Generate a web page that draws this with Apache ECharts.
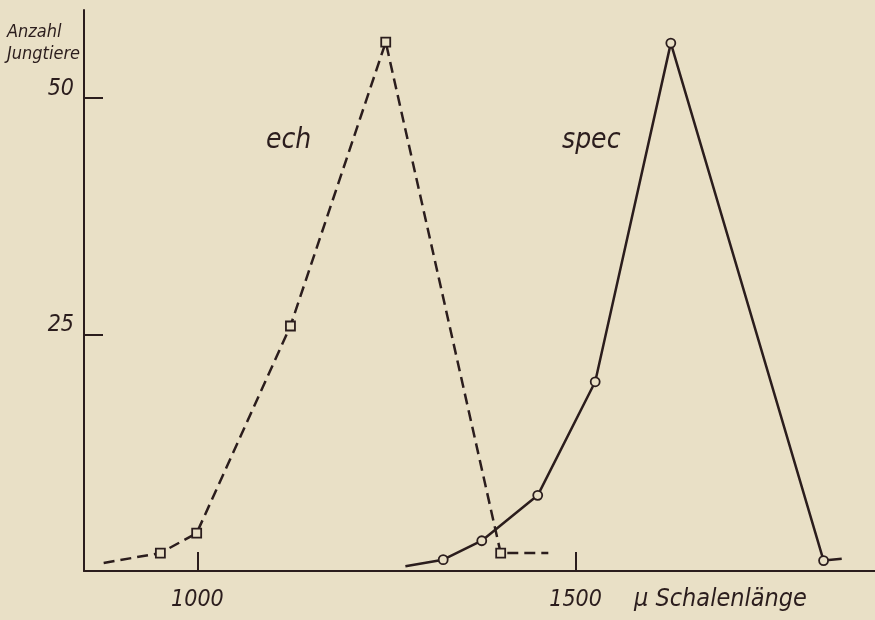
<!DOCTYPE html>
<html><head><meta charset="utf-8">
<script src="https://cdn.jsdelivr.net/npm/echarts@6/dist/echarts.min.js"></script>
<style>html,body{margin:0;padding:0;background:#e9e0c6}#c{width:875px;height:620px}</style>
</head><body><div id="c"></div>
<script>
// ech (squares, dashed)
const echX = [876, 951, 999, 1123, 1249, 1401, 1464];
const echY = [0.85, 1.9, 4.0, 25.9, 55.9, 1.9, 1.9];
const echMarked = [false, true, true, true, true, true, false];
// spec (circles, solid)
const specX = [1275, 1325, 1376, 1450, 1526, 1626, 1828, 1852];
const specY = [0.5, 1.2, 3.2, 8.0, 20.0, 55.8, 1.1, 1.3];
const specMarked = [false, true, true, true, true, true, true, false];
const xTicks = [1000, 1500];
const yTicks = [25, 50];

const ink = '#2b1d1d';
const bg = '#e9e0c6';
const font = '"DejaVu Sans Condensed", "DejaVu Sans", sans-serif';

function pts(xs, ys, marked) {
  return xs.map((x, i) => marked[i] ? [x, ys[i]] : {value: [x, ys[i]], symbol: 'none'});
}

const chart = echarts.init(document.getElementById('c'));
chart.setOption({
  backgroundColor: bg,
  animation: false,
  grid: {left: 84, right: 0, top: 10, bottom: 49},
  xAxis: {
    type: 'value', min: 850, max: 1896,
    splitLine: {show: false},
    axisLine: {show: true, lineStyle: {color: ink, width: 2}},
    axisTick: {show: true, inside: true, length: 19, customValues: xTicks, lineStyle: {color: ink, width: 2}},
    axisLabel: {customValues: xTicks, formatter: v => String(v), margin: 18, color: ink, fontSize: 23, fontStyle: 'italic', fontFamily: font, fontWeight: 'lighter'}
  },
  yAxis: {
    type: 'value', min: 0, max: 59.3,
    splitLine: {show: false},
    axisLine: {show: true, lineStyle: {color: ink, width: 2}},
    axisTick: {show: true, inside: true, length: 19, customValues: yTicks, lineStyle: {color: ink, width: 2}},
    axisLabel: {customValues: yTicks, formatter: v => String(v), margin: 10, color: ink, fontSize: 23, fontStyle: 'italic', fontFamily: font, fontWeight: 'lighter', verticalAlign: 'bottom', lineHeight: 18}
  },
  series: [
    {
      type: 'line', name: 'ech', data: pts(echX, echY, echMarked),
      symbol: 'rect', symbolSize: 9, showSymbol: true,
      lineStyle: {color: ink, width: 2.5, type: [11, 6]},
      itemStyle: {color: bg, borderColor: ink, borderWidth: 1.8},
      z: 3
    },
    {
      type: 'line', name: 'spec', data: pts(specX, specY, specMarked),
      symbol: 'circle', symbolSize: 9, showSymbol: true,
      lineStyle: {color: ink, width: 2.5},
      itemStyle: {color: bg, borderColor: ink, borderWidth: 1.8},
      z: 4
    }
  ],
  graphic: [
    {type: 'text', left: 7, top: 21, style: {text: 'Anzahl\nJungtiere', fill: ink, font: 'italic 300 18px ' + font, lineHeight: 22}},
    {type: 'text', left: 266, top: 127, style: {text: 'ech', fill: ink, font: 'italic 300 28px ' + font}},
    {type: 'text', left: 562, top: 127, style: {text: 'spec', fill: ink, font: 'italic 300 28px ' + font}},
    {type: 'text', left: 634, top: 587, style: {text: 'μ Schalenlänge', fill: ink, font: 'italic 300 25px ' + font}}
  ]
});
</script></body></html>
